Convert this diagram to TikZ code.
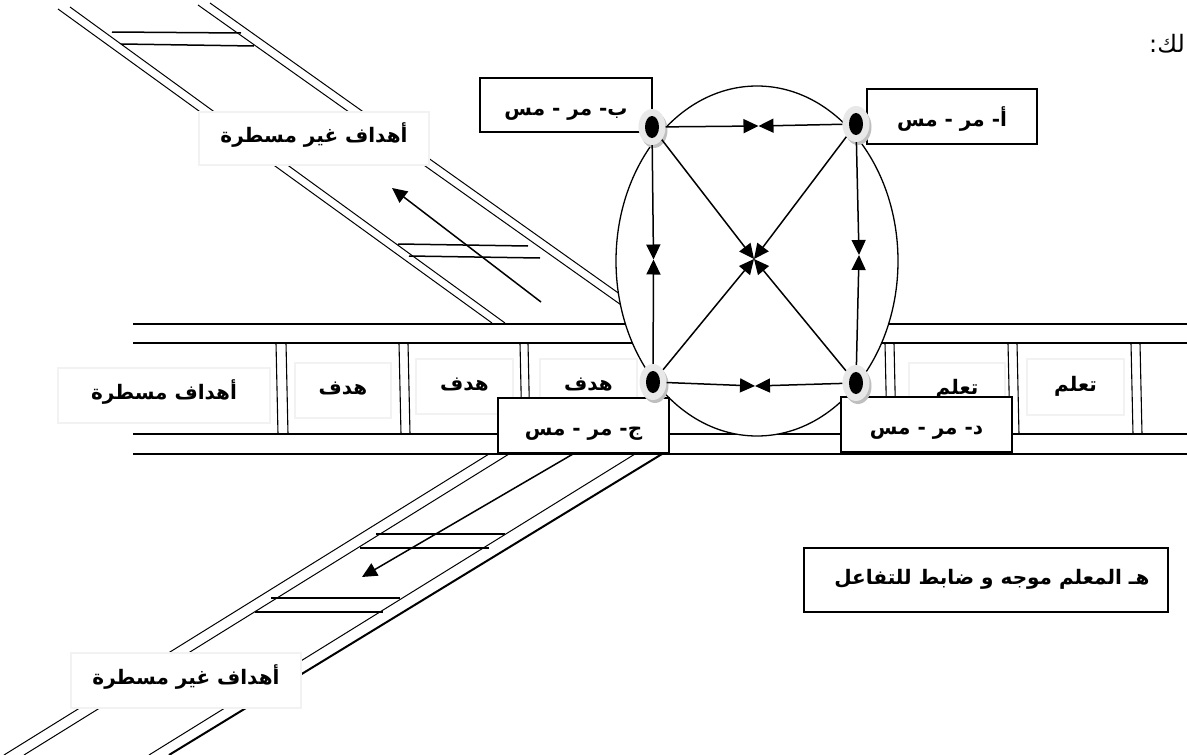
\documentclass[tikz,border=0pt]{standalone}
\usepackage{fontspec}
\newfontfamily\arabicfont[Script=Arabic]{DejaVu Sans}
\TeXXeTstate=1
\usetikzlibrary{arrows.meta,shapes.geometric,calc}
\newcommand{\artxt}[1]{{\arabicfont\bfseries\beginR #1\endR}}
\begin{document}
\begin{tikzpicture}[x=1pt,y=-1pt,
  road/.style={line width=1.6pt},
  rail/.style={line width=1pt},
  rung/.style={line width=1.5pt},
  divider/.style={line width=1.1pt},
  arr/.style={line width=1.5pt,-{Triangle[length=15pt,width=14pt]}},
  boxtext/.style={font=\fontsize{20}{24}\selectfont,text height=13pt,text depth=5pt},
  lbl/.style={boxtext,draw=gray!10,line width=1.2pt,fill=white,inner sep=0pt},
  blk/.style={boxtext,draw=black,line width=1.8pt,fill=white,inner sep=0pt},
  lowtext/.style={text height=20pt,text depth=0pt},
  ring/.style={ellipse,fill=gray!18,minimum width=27pt,minimum height=36pt,inner sep=0pt,
    path picture={\fill[black] (path picture bounding box.center) ellipse [x radius=7,y radius=11];}},
  shade/.style={fill=gray!50}
]
\useasboundingbox (0,0) rectangle (1187,755);

% upper-left road
\draw[rail] (58,9) -- (492,323);
\draw[rail] (70,7) -- (505,323);
\draw[rail] (198,5) -- (648,324);
\draw[rail] (210,3) -- (662,324);
\draw[rung] (112,32) -- (241,33);
\draw[rung] (121,44) -- (254,46);
\draw[rung] (398,244) -- (528,246);
\draw[rung] (409,256) -- (540,258);
\coordinate (ulS) at (541,302);
\coordinate (ulE) at (392,188);
\draw[arr] (ulS) -- (ulE);

% lower-left road
\draw[rail] (489,454) -- (4,755);
\draw[rail] (509,454) -- (24,755);
\draw[rail] (635,454) -- (149,755);
\draw[line width=2pt] (662,454) -- (169,755);
\draw[rung] (376,534) -- (505,534);
\draw[rung] (360,548) -- (489,548);
\draw[rung] (271,598) -- (400,598);
\draw[rung] (255,612) -- (383,612);
\coordinate (dlS) at (573,454);
\coordinate (dlE) at (362,577);
\draw[arr] (dlS) -- (dlE);

% horizontal road
\foreach \y in {324,343,434,454} \draw[road] (133,\y) -- (1187,\y);
\foreach \x in {276,286,399,408,520,528,885,894,1008,1017,1131,1140}
  \draw[divider] (\x,343) -- (\x+2,434);

% labels
\node[lbl,minimum width=230pt,minimum height=53pt] (ngu) at (314,138.5) {\artxt{أهداف غير مسطرة}};
\node[lbl,minimum width=212pt,minimum height=55pt] (ms) at (164,395.5) {\artxt{أهداف مسطرة}};
\node[lbl,minimum width=96pt,minimum height=55pt] (h1) at (343,390.5) {\artxt{هدف}};
\node[lbl,minimum width=97pt,minimum height=55pt] (h2) at (464.5,386.5) {\artxt{هدف}};
\node[lbl,minimum width=97pt,minimum height=55pt] (h3) at (588.5,386.5) {\artxt{هدف}};
\node[lbl,minimum width=96pt,minimum height=55pt] (t1) at (957,390.5) {\artxt{تعلم}};
\node[lbl,minimum width=97pt,minimum height=56pt] (t2) at (1075.5,387) {\artxt{تعلم}};
\node[lbl,minimum width=230pt,minimum height=55pt] (ngd) at (186,680.5) {\artxt{أهداف غير مسطرة}};

% circle of interaction
\node[ellipse,draw,line width=1.3pt,fill=white,minimum width=282pt,minimum height=350pt,inner sep=0pt] (circ) at (757,261) {};

% black boxes
\node[blk,lowtext,minimum width=172pt,minimum height=54pt] (bB) at (566,105) {\artxt{ب- مر - مس}};
\node[blk,lowtext,minimum width=170pt,minimum height=55pt] (bA) at (952,116.5) {\artxt{أ- مر - مس}};
\node[blk,lowtext,minimum width=171pt,minimum height=55pt] (bC) at (583.5,425.5) {\artxt{ج- مر - مس}};
\node[blk,lowtext,minimum width=171pt,minimum height=55pt] (bD) at (926.5,424.5) {\artxt{د- مر - مس}};
\node[blk,minimum width=364pt,minimum height=64pt] (bE) at (986,580) {\hspace{12pt}\artxt{هـ المعلم موجه و ضابط للتفاعل}};

% dots
\coordinate (pB) at (652,127);
\coordinate (pA) at (856,124);
\coordinate (pC) at (653,382);
\coordinate (pD) at (856,383);
\foreach \p in {pB,pA,pC,pD} \fill[shade] ($(\p)+(2,3)$) ellipse [x radius=13.5,y radius=18];
\node[ring] (B) at (pB) {};
\node[ring] (A) at (pA) {};
\node[ring] (C) at (pC) {};
\node[ring] (D) at (pD) {};

% meeting points
\coordinate (mT) at (758.5,126);
\coordinate (mB) at (755,386);
\coordinate (mL) at (653.5,259.5);
\coordinate (mR) at (859,255);
\coordinate (mX) at (754,259);

\draw[arr] (B) -- (mT);
\draw[arr] (A) -- (mT);
\draw[arr] (C) -- (mB);
\draw[arr] (D) -- (mB);
\draw[arr] (B) -- (mL);
\draw[arr] (C) -- (mL);
\draw[arr] (A) -- (mR);
\draw[arr] (D) -- (mR);
\draw[arr] (B) -- (mX);
\draw[arr] (A) -- (mX);
\draw[arr] (C) -- (mX);
\draw[arr] (D) -- (mX);

% text at top right
\node[anchor=east,inner sep=0pt,font=\fontsize{24}{28}\selectfont] (top) at (1185,44) {{\arabicfont\beginR لك:\endR}};
\end{tikzpicture}
\end{document}
